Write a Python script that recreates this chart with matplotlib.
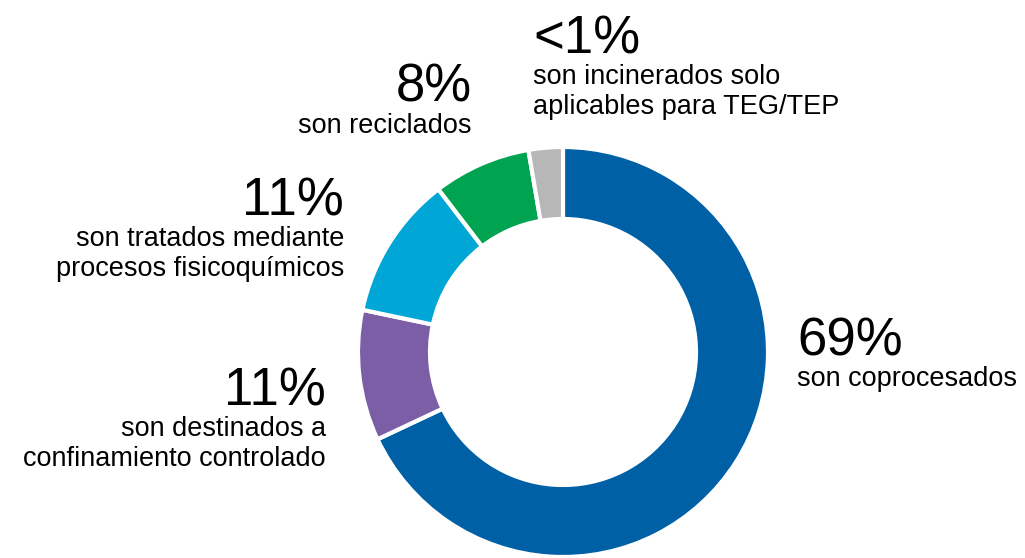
import matplotlib.pyplot as plt

# slice shares read from the donut (clockwise from 12 o'clock)
shares = [68.0, 10.3, 11.3, 7.7, 2.7]
colors = ["#0060A5", "#7B5EA5", "#00A7D6", "#00A34F", "#B7B7B7"]

big_labels = ["69%", "11%", "11%", "8%", "<1%"]
small_labels = [
    ["son coprocesados"],
    ["son destinados a", "confinamiento controlado"],
    ["son tratados mediante", "procesos fisicoquímicos"],
    ["son reciclados"],
    ["son incinerados solo", "aplicables para TEG/TEP"],
]

W, H = 1025, 558

fig = plt.figure(figsize=(W / 100, H / 100), dpi=100)
ax = fig.add_axes([0, 0, 1, 1])
ax.pie(shares, colors=colors, startangle=90, counterclock=False,
       center=(563, H - 352), radius=205,
       wedgeprops=dict(width=72, edgecolor="white", linewidth=3))
ax.set_xlim(0, W)
ax.set_ylim(0, H)
ax.set_aspect("equal")
ax.axis("off")

font = ["Liberation Sans", "DejaVu Sans"]

# label anchors in pixels from top-left: (x, baseline of big number, alignment)
spots = [(797, 355, "left"), (326, 405, "right"), (344, 215, "right"),
         (472, 102, "right"), (533, 53, "left")]
for (x, y, ha), big, lines in zip(spots, big_labels, small_labels):
    ax.text(x, H - y, big, ha=ha, va="baseline", fontsize=38,
            family=font, color="black")
    for i, line in enumerate(lines):
        ax.text(x, H - (y + 31 + 30 * i), line, ha=ha, va="baseline",
                fontsize=19.5, family=font, color="black")

fig.savefig("out.png")
